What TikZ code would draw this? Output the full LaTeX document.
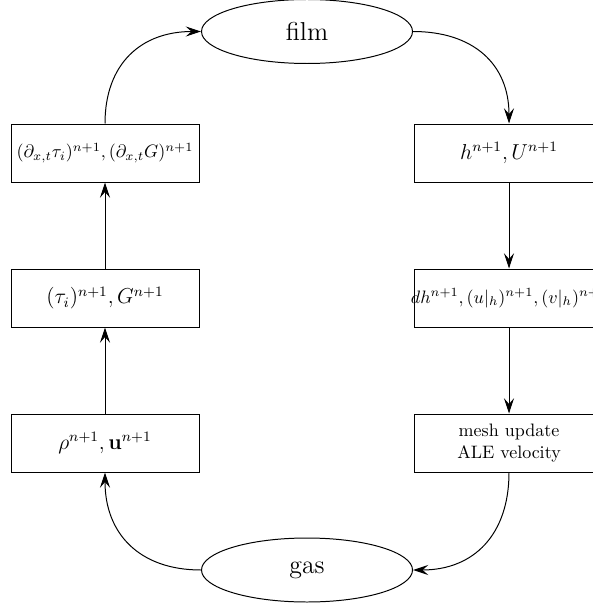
\documentclass[tikz,border=0pt]{standalone}
\usetikzlibrary{arrows.meta,shapes.geometric}
\begin{document}
\begin{tikzpicture}[x=0.5556pt,y=-0.5556pt,
  every path/.style={line width=0.55pt},
  stepbox/.style={draw, rectangle, minimum width=188*0.5556pt, minimum height=58*0.5556pt, inner sep=0pt, align=center},
  phase/.style={draw, ellipse, minimum width=211*0.5556pt, minimum height=64*0.5556pt, inner sep=0pt, font=\Large},
  arr/.style={-{Stealth[length=8.5pt,width=5.6pt,inset=3.2pt]}},
  curvy/.style={looseness=1.15}]
\useasboundingbox (0,0) rectangle (592,610);
\node[phase] (film) at (307,31.5) {film};
\node[phase] (gas) at (307,570) {gas};
\node[stepbox] (L1) at (105,443) {\large $\rho^{n+1},\mathbf{u}^{n+1}$};
\node[stepbox] (L2) at (105,298) {\large $(\tau_i)^{n+1},G^{n+1}$};
\node[stepbox] (L3) at (105,153) {$(\partial_{x,t}\tau_i)^{n+1},(\partial_{x,t}G)^{n+1}$};
\node[stepbox, minimum width=190*0.5556pt] (R1) at (509,153) {\large $h^{n+1},U^{n+1}$};
\node[stepbox, minimum width=190*0.5556pt] (R2) at (509,298) {\makebox[0pt]{$dh^{n+1},(u|_h)^{n+1},(v|_h)^{n+1}$}};
\node[stepbox, minimum width=190*0.5556pt] (R3) at (509,443) {mesh update\\ALE velocity};
\draw[arr] (L1) -- (L2);
\draw[arr] (L2) -- (L3);
\draw[arr, curvy] (L3.north) to[out=90,in=180] (film.west);
\draw[arr, curvy] (film.east) to[out=0,in=90] (R1.north);
\draw[arr] (R1) -- (R2);
\draw[arr] (R2) -- (R3);
\draw[arr, curvy] (R3.south) to[out=-90,in=0] (gas.east);
\draw[arr, curvy] (gas.west) to[out=180,in=-90] (L1.south);
\end{tikzpicture}
\end{document}
